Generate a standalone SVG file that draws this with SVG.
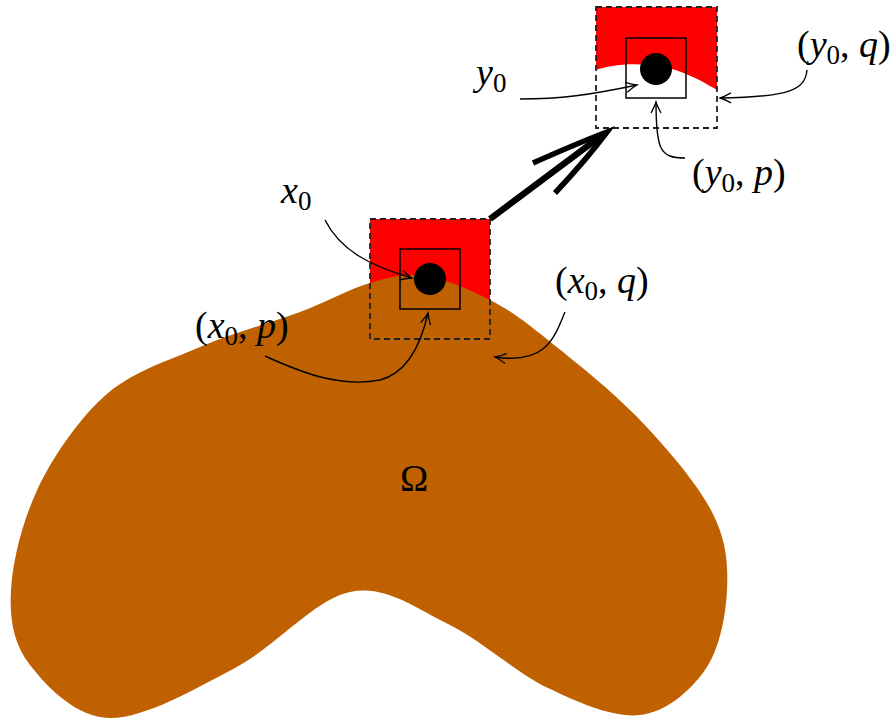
<svg xmlns="http://www.w3.org/2000/svg" width="896" height="724" viewBox="0 0 896 724">
<defs>
<style>
.lbl{font-family:"Liberation Serif","DejaVu Serif",serif;font-size:38px;fill:#000}
.it{font-style:italic}
.sub{font-size:27px}
.dash{fill:none;stroke:#222;stroke-width:1.8;stroke-dasharray:6 4}
.inner{fill:none;stroke:#000;stroke-width:1.5}
.conn{fill:none;stroke:#000;stroke-width:1.4}
</style>
<marker id="ah" markerWidth="14" markerHeight="12" viewBox="-12 -6 14 12" refX="0" refY="0" orient="auto" markerUnits="userSpaceOnUse">
<path d="M-11,-5 Q-4,-1.2 0,0 Q-4,1.2 -11,5" fill="none" stroke="#000" stroke-width="1.3"/>
</marker>
</defs>
<rect width="896" height="724" fill="#fff"/>

<g id="x0-red"><rect x="370" y="219" width="120" height="120" fill="#ff0000"/></g>

<g id="omega">
<path fill="#bf6100" d="M425,276 C445,278.8 469.5,289.3 490,300 C510.5,310.7 523,320 548,340 C573,360 612.7,391.3 640,420 C667.3,448.7 697.5,483.7 712,512 C726.5,540.3 728.2,563.7 727,590 C725.8,616.3 719.5,649.2 705,670 C690.5,690.8 666.2,712 640,715 C613.8,718 580,703.2 548,688 C516,672.8 481,640 448,624 C415,608 385.5,584.7 350,592 C314.5,599.3 275,647 235,668 C195,689 144.2,718.5 110,718 C75.8,717.5 46.5,686.3 30,665 C13.5,643.7 9.3,619.2 11,590 C12.7,560.8 22,522.5 38,488 C54,455 80,417 108,393 C136,370 168.3,360.8 200,347 C231.7,333.2 271.7,322.7 300,312 C328.3,301.3 349.2,289 370,283 C390.8,277 405,273.2 425,276 Z"/>
<text class="lbl" x="414" y="491" text-anchor="middle">Ω</text>
</g>

<g id="x0-box">
<rect class="dash" x="370" y="219" width="120" height="120"/>
<rect class="inner" x="400" y="249" width="60" height="60"/>
<circle cx="430" cy="279" r="16" fill="#000"/>
</g>

<g id="y0-box">
<path fill="#ff0000" d="M596,7 H717 V90 C700,80 680,68 650,65 C625,63 608,66 596,70 Z"/>
<rect class="dash" x="596" y="7" width="121" height="121"/>
<rect class="inner" x="626" y="38" width="60" height="60"/>
<circle cx="656" cy="69" r="16" fill="#000"/>
</g>

<g id="map-arrow">
<path d="M490,219 L605,133" fill="none" stroke="#000" stroke-width="6.5"/>
<path d="M533,163 Q578,143 607,132 Q586,160 555,193" fill="none" stroke="#000" stroke-width="5.5" stroke-linejoin="miter"/>
</g>

<g id="labels">
<text class="lbl" x="281" y="203"><tspan class="it">x</tspan><tspan class="sub" dy="7">0</tspan></text>
<text class="lbl" x="476" y="85"><tspan class="it">y</tspan><tspan class="sub" dy="7">0</tspan></text>
<text class="lbl" x="195" y="338">(<tspan class="it">x</tspan><tspan class="sub" dy="7">0</tspan><tspan dy="-7">, </tspan><tspan class="it">p</tspan>)</text>
<text class="lbl" x="555" y="293">(<tspan class="it">x</tspan><tspan class="sub" dy="7">0</tspan><tspan dy="-7">, </tspan><tspan class="it">q</tspan>)</text>
<text class="lbl" x="797" y="57">(<tspan class="it">y</tspan><tspan class="sub" dy="7">0</tspan><tspan dy="-7">, </tspan><tspan class="it">q</tspan>)</text>
<text class="lbl" x="692" y="185">(<tspan class="it">y</tspan><tspan class="sub" dy="7">0</tspan><tspan dy="-7">, </tspan><tspan class="it">p</tspan>)</text>
</g>

<g id="connectors">
<path class="conn" marker-end="url(#ah)" d="M325,220 C340,250 370,266 412,278"/>
<path class="conn" marker-end="url(#ah)" d="M265,356 C300,372 340,388 380,380 C410,372 422,340 428,313"/>
<path class="conn" marker-end="url(#ah)" d="M565,312 C555,335 548,365 495,357"/>
<path class="conn" marker-end="url(#ah)" d="M520,99 C560,99 590,95 637,85"/>
<path class="conn" marker-end="url(#ah)" d="M807,70 C805,90 790,97 720,98"/>
<path class="conn" marker-end="url(#ah)" d="M685,158 C660,158 656,150 656,102"/>
</g>
</svg>
